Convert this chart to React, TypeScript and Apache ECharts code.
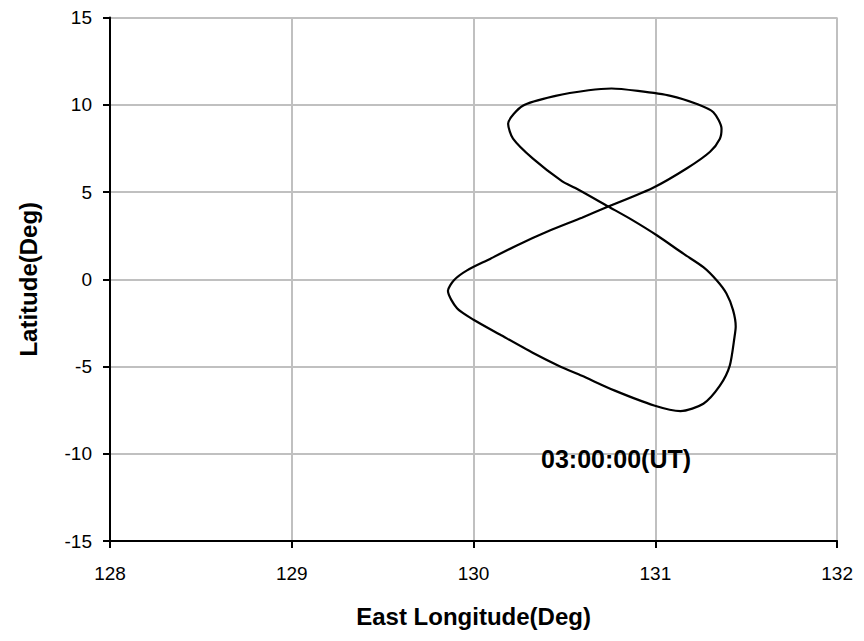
import React, { useEffect, useRef } from "react";
import * as echarts from "echarts";

const lons = [
  130.741, 130.985, 131.174, 131.301, 131.355, 131.364, 131.319, 131.229, 131.084, 130.904, 130.759, 130.633,
  130.451, 130.271, 130.19, 130.217, 130.325, 130.488, 130.56, 130.741, 130.867, 131.012, 131.156, 131.264,
  131.337, 131.391, 131.427, 131.442, 131.436, 131.409, 131.355, 131.264, 131.138, 130.993, 130.777, 130.596,
  130.47, 130.325, 130.145, 130.0, 129.909, 129.859, 129.892, 129.964, 130.091, 130.235, 130.416, 130.596,
  130.741,
];
const lats = [
  4.168, 5.227, 6.359, 7.305, 8.058, 8.624, 9.57, 10.04, 10.51, 10.79, 10.93, 10.83,
  10.51, 9.94, 8.907, 8.058, 6.925, 5.606, 5.227, 4.168, 3.431, 2.492, 1.45, 0.696,
  -0.057, -0.815, -1.755, -2.701, -3.267, -4.966, -6.099, -7.135, -7.554, -7.231, -6.382, -5.532,
  -4.966, -4.213, -3.171, -2.322, -1.665, -0.663, -0.057, 0.51, 1.166, 1.925, 2.775, 3.528,
  4.168,
];
const xTicks = { min: 128, max: 132, interval: 1 };
const yTicks = { min: -15, max: 15, interval: 5 };
const timeLabel = "03:00:00(UT)";
const xName = "East Longitude(Deg)";
const yName = "Latitude(Deg)";

export default function App() {
  const ref = useRef<HTMLDivElement>(null);
  useEffect(() => {
    if (!ref.current) return;
    const chart = echarts.init(ref.current, undefined, { renderer: "svg" });
    const font = "'Liberation Sans', Arial, sans-serif";
    chart.setOption({
      animation: false,
      backgroundColor: "#ffffff",
      grid: { left: 93, right: 17, top: 8, bottom: 86 },
      xAxis: {
        type: "value",
        min: xTicks.min,
        max: xTicks.max,
        interval: xTicks.interval,
        name: xName,
        nameLocation: "middle",
        nameGap: 63,
        nameTextStyle: { fontFamily: font, fontSize: 24, fontWeight: "bold", color: "#000" },
        axisLine: { show: true, onZero: false, lineStyle: { color: "#000", width: 2 } },
        axisTick: { show: true, inside: false, length: 7, lineStyle: { color: "#000", width: 2 } },
        axisLabel: { margin: 23, fontFamily: font, fontSize: 19, color: "#000" },
        splitLine: { show: true, lineStyle: { color: "#c0c0c0", width: 2 } },
      },
      yAxis: {
        type: "value",
        min: yTicks.min,
        max: yTicks.max,
        interval: yTicks.interval,
        name: yName,
        nameLocation: "middle",
        nameGap: 70,
        nameTextStyle: { fontFamily: font, fontSize: 24, fontWeight: "bold", color: "#000" },
        axisLine: { show: true, onZero: false, lineStyle: { color: "#000", width: 2 } },
        axisTick: { show: true, inside: false, length: 7, lineStyle: { color: "#000", width: 2 } },
        axisLabel: { margin: 18, fontFamily: font, fontSize: 19, color: "#000" },
        splitLine: { show: true, lineStyle: { color: "#c0c0c0", width: 2 } },
      },
      series: [
        {
          type: "line",
          data: lons.map((x, i) => [x, lats[i]]),
          showSymbol: false,
          smooth: 0.25,
          lineStyle: { color: "#000", width: 2.2 },
          z: 5,
        },
      ],
      graphic: [
        {
          type: "text",
          x: 533,
          y: 450.5,
          style: {
            text: timeLabel,
            fontFamily: font,
            fontSize: 25,
            fontWeight: "bold",
            fill: "#000",
            verticalAlign: "middle",
          },
          z: 10,
        },
      ],
    });
    return () => chart.dispose();
  }, []);
  return <div ref={ref} style={{ width: 848, height: 625 }} />;
}
